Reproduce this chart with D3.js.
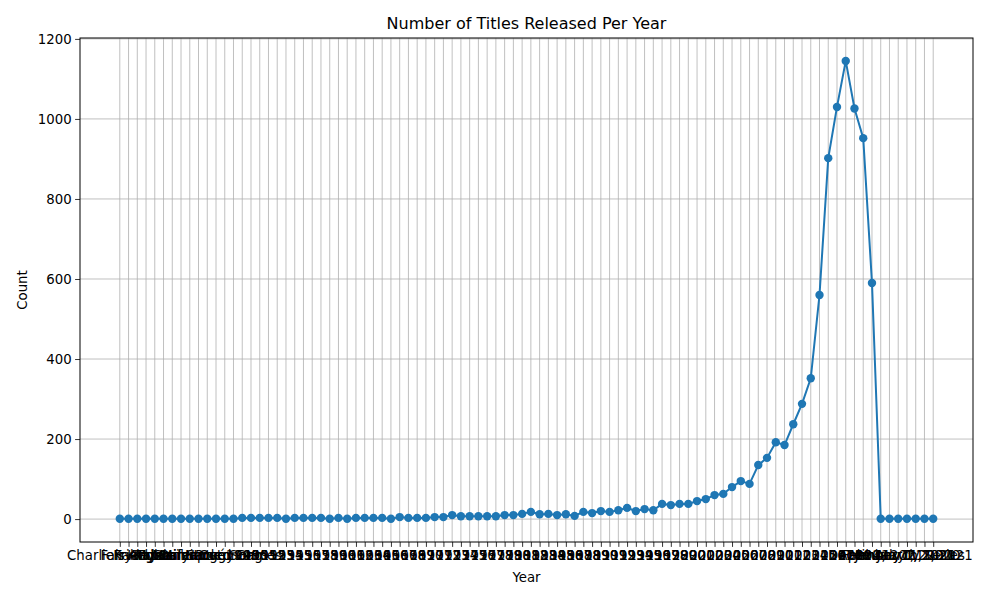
<!DOCTYPE html>
<html><head><meta charset="utf-8">
<script src="https://cdn.jsdelivr.net/npm/d3@7"></script>
<style>body{margin:0;background:#fff}text{font-family:"DejaVu Sans",sans-serif}</style>
</head><body><svg id="c" width="1000" height="600"></svg>
<script>
const leadLabels = ["Charlie's Angels","Fairy Tail","Friends","Kakegurui","Karma","Kid Cosmic","Lucifer","Manhunt","Mirzapur","My Only Love Song","Naruto","Oggy","Pokémon","Sacred Games"];
const leadValues = [1,1,1,1,1,1,1,1,1,1,1,1,1,1];
const years = d3.range(1949, 2022).map(String);
const yearValues = [3,3,3,3,3,1,3,3,3,3, 1,3,1,3,3,3,3,1,5,3, 3,3,5,5,10,7,7,7,7,7, 10,10,13,18,12,13,10,12,8,18, 15,20,18,22,28,20,25,22,38,35, 38,38,45,50,60,63,80,95,88,135, 153,192,185,237,288,352,560,902,1030,1145, 1026,952,590];
const tailLabels = ["April 4, 2021","December 1, 2020","February 1, 2021","January 1, 2020","July 1, 2021","March 1, 2021","TV Series"];
const tailValues = [1,1,1,1,1,1,1];
const labels = leadLabels.concat(years, tailLabels);
const values = leadValues.concat(yearValues, tailValues);
const data = labels.map((l,i)=>({l, v: values[i]}));

const svg = d3.select("#c");
const L=80,R=973,T=38,B=542;
const x = d3.scalePoint().domain(labels).range([L,R]).padding(4.55);
const y = d3.scaleLinear().domain([-57.25,1202.25]).range([B,T]);
const yt=[0,200,400,600,800,1000,1200];
const g=svg.append("g");
g.selectAll(".gx").data(labels).join("line").attr("x1",d=>x(d)).attr("x2",d=>x(d)).attr("y1",T).attr("y2",B).attr("stroke","#b0b0b0").attr("stroke-width",0.8);
g.selectAll(".gy").data(yt).join("line").attr("x1",L).attr("x2",R).attr("y1",d=>y(d)).attr("y2",d=>y(d)).attr("stroke","#b0b0b0").attr("stroke-width",0.8);
svg.append("path").datum(data).attr("fill","none").attr("stroke","#1f77b4").attr("stroke-width",2)
  .attr("d",d3.line().x(d=>x(d.l)).y(d=>y(d.v)));
svg.selectAll("circle").data(data).join("circle").attr("cx",d=>x(d.l)).attr("cy",d=>y(d.v)).attr("r",4.2).attr("fill","#1f77b4");
const ax=svg.append("g").attr("transform",`translate(0,${B})`).call(d3.axisBottom(x).tickSize(4.9).tickPadding(3.5));
const ay=svg.append("g").attr("transform",`translate(${L},0)`).call(d3.axisLeft(y).tickValues(yt).tickFormat(d3.format("d")).tickSize(4.9).tickPadding(3.5));
[ax,ay].forEach(a=>{a.select(".domain").remove();a.selectAll("text").attr("font-size",13.3).attr("fill","#000").attr("font-family","DejaVu Sans");a.selectAll("line").attr("stroke","#000").attr("stroke-width",0.8);});
svg.append("rect").attr("x",L).attr("y",T).attr("width",R-L).attr("height",B-T).attr("fill","none").attr("stroke","#000").attr("stroke-width",1);
svg.append("text").attr("x",(L+R)/2).attr("y",T-9).attr("text-anchor","middle").attr("font-size",16).text("Number of Titles Released Per Year");
svg.append("text").attr("x",(L+R)/2).attr("y",582).attr("text-anchor","middle").attr("font-size",13.3).text("Year");
svg.append("text").attr("transform",`translate(27,${(T+B)/2}) rotate(-90)`).attr("text-anchor","middle").attr("font-size",13.3).text("Count");
</script></body></html>
